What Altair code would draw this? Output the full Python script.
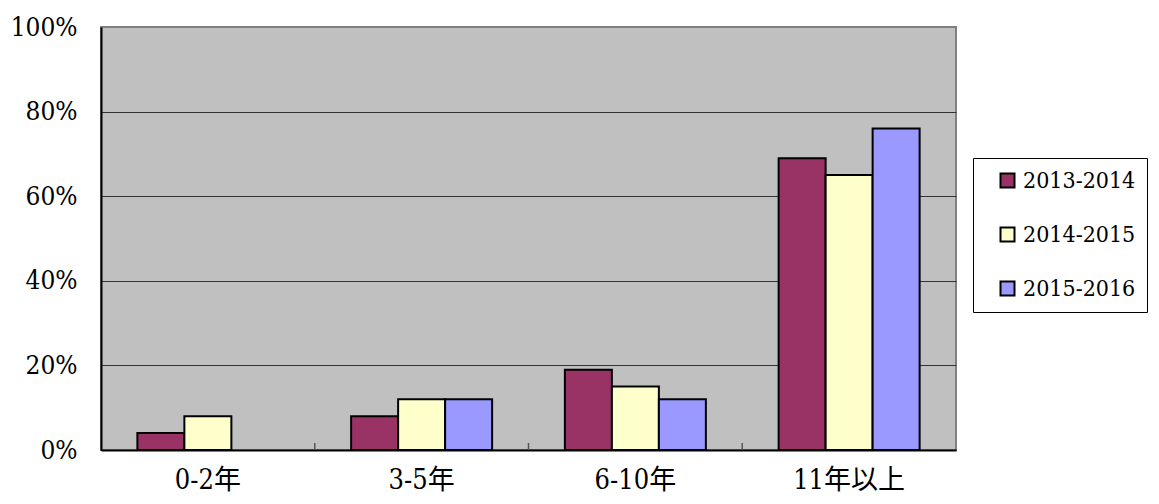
import altair as alt
import pandas as pd

categories = ["0-2年", "3-5年", "6-10年", "11年以上"]
series = ["2013-2014", "2014-2015", "2015-2016"]
colors = ["#993366", "#FFFFCC", "#9999FF"]
v2013 = [4, 8, 19, 69]
v2014 = [8, 12, 15, 65]
v2015 = [None, 12, 12, 76]
y_ticks = [0, 20, 40, 60, 80, 100]

rows = []
for s, vals in zip(series, [v2013, v2014, v2015]):
    for c, v in zip(categories, vals):
        if v is not None:
            rows.append({"cat": c, "series": s, "value": v})
df = pd.DataFrame(rows)
cat_df = pd.DataFrame({"cat": categories[1:]})

FONT = "DejaVu Serif Condensed, Noto Sans CJK TC"
W, H = 855, 423

x_enc = alt.X("cat:N", sort=categories,
              scale=alt.Scale(domain=categories, paddingInner=0, paddingOuter=0),
              axis=alt.Axis(title=None, labelAngle=0, labelFontSize=27, labelFont=FONT,
                            labelFontWeight="normal", labelColor="black", ticks=False,
                            labelPadding=17, domainColor="black", domainWidth=2, grid=False))

bars = alt.Chart(df).mark_bar(stroke="black", strokeWidth=2).encode(
    x=x_enc,
    xOffset=alt.XOffset("series:N", sort=series,
                        scale=alt.Scale(domain=series, paddingInner=0, paddingOuter=0.774)),
    y=alt.Y("value:Q", scale=alt.Scale(domain=[0, 100], nice=False),
            axis=alt.Axis(title=None, values=y_ticks, labelExpr="datum.value + '%'",
                          labelFontSize=26, labelFont=FONT, labelColor="black",
                          ticks=False, labelPadding=24, domainColor="black", domainWidth=2,
                          gridColor={"condition": {"test": "datum.value >= 100", "value": "#808080"},
                                     "value": "#333333"},
                          gridWidth=1)),
    color=alt.Color("series:N", sort=series,
                    scale=alt.Scale(domain=series, range=colors),
                    legend=alt.Legend(title=None, orient="none", legendX=872, legendY=131,
                                      labelFontSize=23, labelFont=FONT, labelColor="black",
                                      symbolType="square", symbolSize=196,
                                      symbolStrokeColor="black", symbolStrokeWidth=2,
                                      symbolOffset=12, labelOffset=4, rowPadding=30,
                                      padding=11, strokeColor="black", fillColor="white")),
)

ticks = alt.Chart(cat_df).mark_rule(color="#555555", strokeWidth=1.5).encode(
    x=alt.X("cat:N", sort=categories, bandPosition=0),
    y=alt.value(H),
    y2=alt.value(H - 7),
)

chart = alt.layer(bars, ticks).properties(
    width=W, height=H,
    autosize=alt.AutoSizeParams(type="none"),
    padding={"left": 93, "top": 19, "right": 192, "bottom": 45},
).configure_view(fill="#C0C0C0", stroke="#808080", strokeWidth=2)

chart.save("out.html", embed_options={"renderer": "svg", "actions": False})
